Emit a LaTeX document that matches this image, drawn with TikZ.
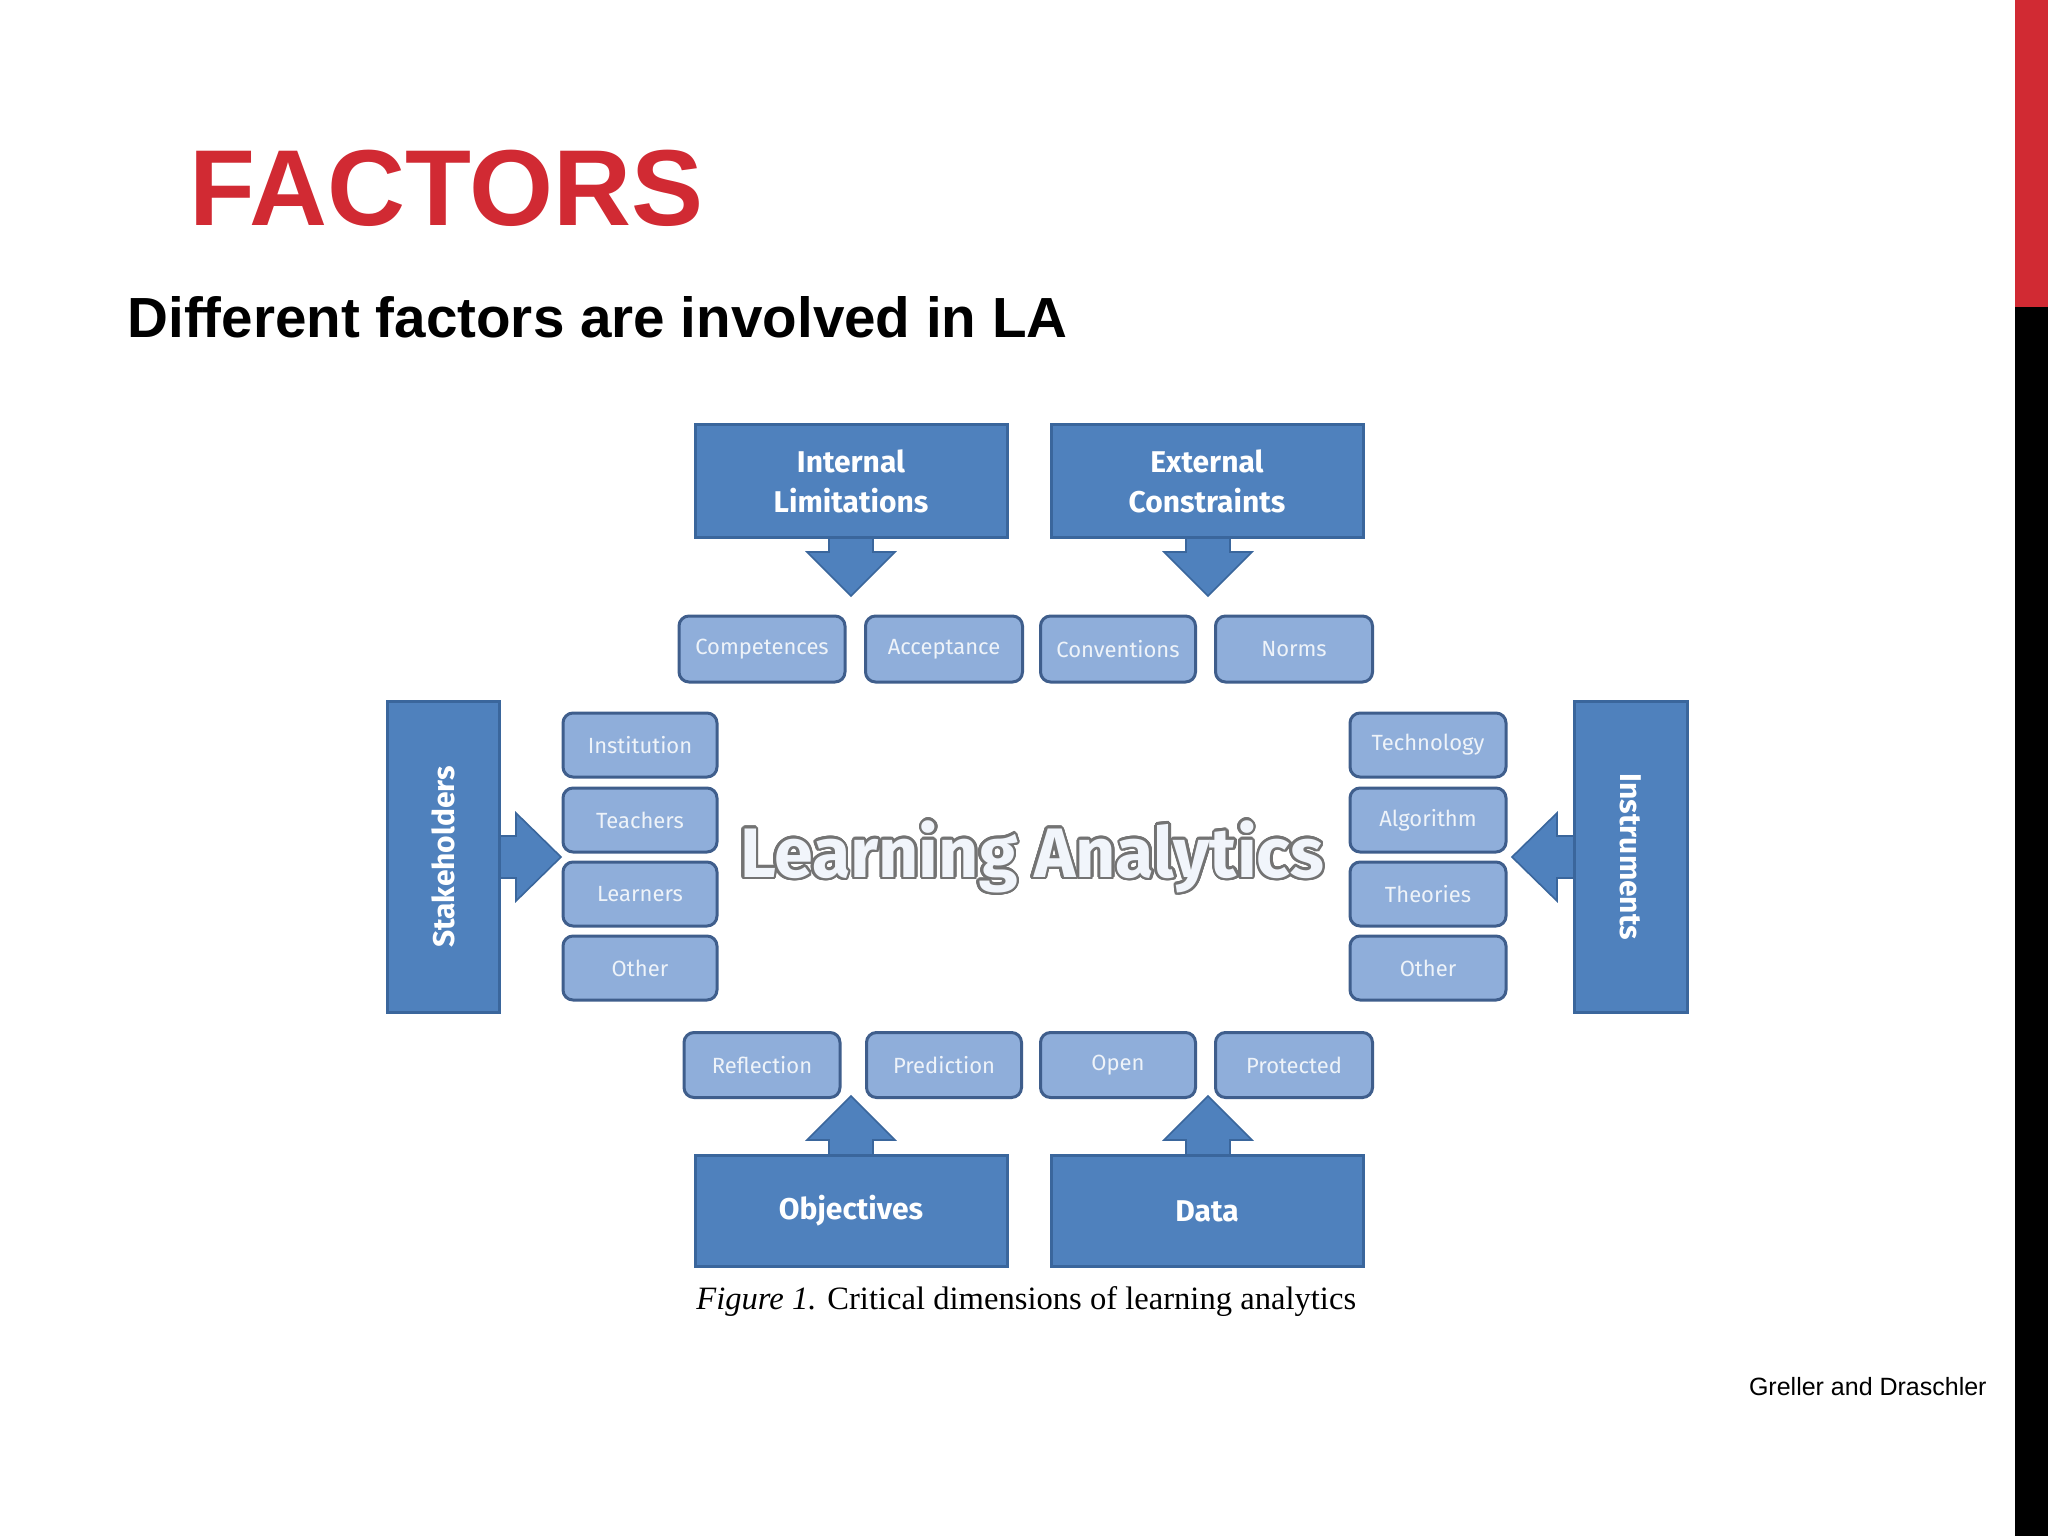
\documentclass[tikz,border=0pt]{standalone}
\usepackage{fontspec}
\setmainfont{Liberation Sans}
\newfontfamily\boxfont{Fira Sans}
\newfontfamily\capfont{Liberation Serif}
\usepackage{contour}
\contourlength{1.3pt}
\contournumber{24}
\definecolor{bigblue}{HTML}{4F81BD}
\definecolor{bigedge}{HTML}{3A669C}
\definecolor{smallblue}{HTML}{8FAEDA}
\definecolor{smalledge}{HTML}{3F5E8C}
\definecolor{titlered}{HTML}{D12A33}
\tikzset{
 big/.style={draw=bigedge,line width=1.5pt,fill=bigblue,text=white,font=\boxfont\bfseries\fontsize{15}{18}\selectfont,align=center,inner sep=0},
 small/.style={draw=smalledge,line width=1.5pt,fill=smallblue,rounded corners=5pt,text=white!85!smallblue,font=\boxfont\fontsize{11}{13}\selectfont,inner sep=0},
 arr/.style={fill=bigblue,draw=bigedge,line width=0.8pt}
}
\begin{document}
\begin{tikzpicture}[x=0.5pt,y=-0.5pt]
\useasboundingbox (0,0) rectangle (2048,1536);
\fill[white] (0,0) rectangle (2048,1536);
\fill[titlered] (2015,0) rectangle (2048,307);
\fill[black] (2015,307) rectangle (2048,1536);
\node[anchor=base west,text=titlered,font=\bfseries\fontsize{54}{60}\selectfont,inner sep=0] (title) at (189,225) {FACTORS};
\node[anchor=base west,font=\bfseries\fontsize{28.3}{32}\selectfont,inner sep=0] (sub) at (127,337) {Different factors are involved in LA};
% arrows
\foreach \cx in {851,1208}{
 \filldraw[arr] (\cx-22,535) -- (\cx+22,535) -- (\cx+22,552) -- (\cx+44,552) -- (\cx,596) -- (\cx-44,552) -- (\cx-22,552) -- cycle;
 \filldraw[arr] (\cx-22,1157) -- (\cx+22,1157) -- (\cx+22,1140) -- (\cx+44,1140) -- (\cx,1096) -- (\cx-44,1140) -- (\cx-22,1140) -- cycle;
}
\filldraw[arr] (497,836) -- (516,836) -- (516,813) -- (561,857) -- (516,901) -- (516,878) -- (497,878) -- cycle;
\filldraw[arr] (1576,836) -- (1557,836) -- (1557,813) -- (1512,857) -- (1557,901) -- (1557,878) -- (1576,878) -- cycle;
% big boxes
\node[big,minimum width=156pt,minimum height=56.5pt] (il) at (851,481) {Internal\\[2pt]Limitations};
\node[big,minimum width=156pt,minimum height=56.5pt] (ec) at (1207,481) {External\\[2pt]Constraints};
\node[big,minimum width=156pt,minimum height=55.5pt] (ob) at (851,1211) {Objectives};
\node[big,minimum width=156pt,minimum height=55.5pt] (da) at (1207,1211) {Data};
\node[big,minimum width=155.5pt,minimum height=56pt,rotate=90] (st) at (443,857) {Stakeholders};
\node[big,minimum width=155.5pt,minimum height=56.5pt,rotate=-90] (in) at (1631,857) {Instruments};
% small boxes top
\node[small,minimum width=83pt,minimum height=33pt] (s1) at (762,649) {Competences};
\node[small,minimum width=78.5pt,minimum height=33pt] (s2) at (944,649) {Acceptance};
\node[small,minimum width=77.5pt,minimum height=33pt] (s3) at (1118,649) {Conventions};
\node[small,minimum width=78.5pt,minimum height=33pt] (s4) at (1294,649) {Norms};
% bottom
\node[small,minimum width=78pt,minimum height=32.5pt] (b1) at (762,1065) {Reflection};
\node[small,minimum width=77.5pt,minimum height=32.5pt] (b2) at (944,1065) {Prediction};
\node[small,minimum width=77.5pt,minimum height=32.5pt] (b3) at (1118,1065) {Open};
\node[small,minimum width=78.5pt,minimum height=32.5pt] (b4) at (1294,1065) {Protected};
% left
\foreach \t/\y [count=\i] in {Institution/745,Teachers/820,Learners/894,Other/968}{
 \node[small,minimum width=77pt,minimum height=32pt] (l\i) at (640,\y) {\t};
 }
\foreach \t/\y [count=\i] in {Technology/745,Algorithm/820,Theories/894,Other/968}{
 \node[small,minimum width=78pt,minimum height=32pt] (r\i) at (1428,\y) {\t};
 }
\node[font=\boxfont\bfseries\fontsize{35}{40}\selectfont,text=white!88!smallblue] (la) at (1032,858) {\contour{black!55}{Learning Analytics}};
\node[anchor=base west,font=\capfont\fontsize{16.3}{18}\selectfont,inner sep=0] (cap) at (696,1309) {\textit{Figure 1.} Critical dimensions of learning analytics};
\node[anchor=base east,font=\fontsize{12.5}{14}\selectfont,inner sep=0] (cite) at (1987,1395) {Greller and Draschler};
\end{tikzpicture}
\end{document}
